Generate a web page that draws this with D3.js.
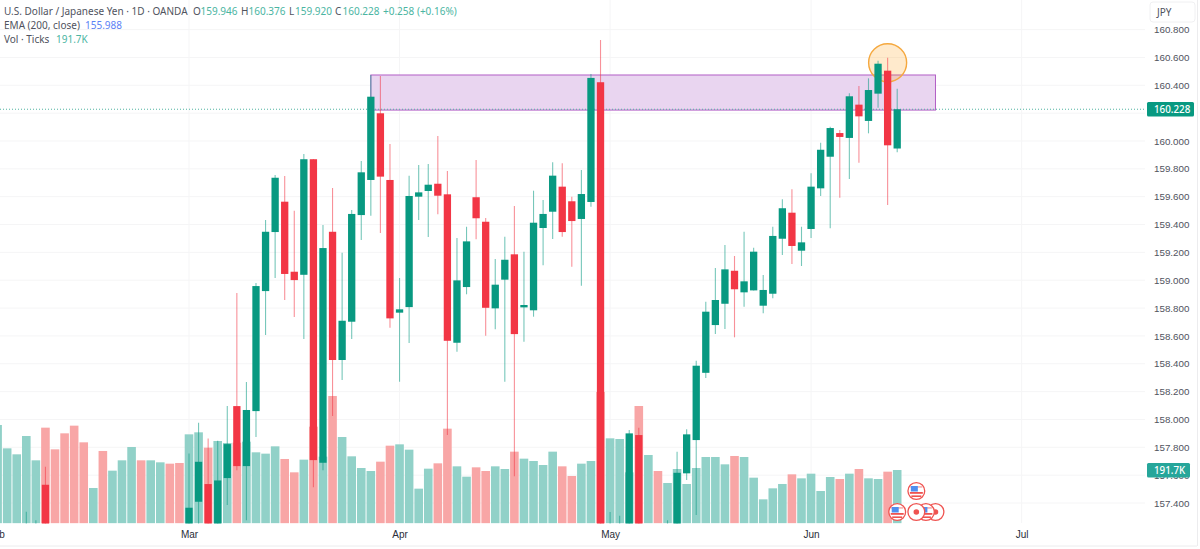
<!DOCTYPE html>
<html lang="en">
<head>
<meta charset="UTF-8">
<title>USD/JPY daily</title>
<script src="https://d3js.org/d3.v7.min.js"></script>
<style>
    html, body { margin: 0; padding: 0; background: #fff; overflow: hidden; }
    svg { display: block; font-family: "Noto Sans", sans-serif; }
    .domain, .tick line { display: none; }
</style>
</head>
<body>
<div id="chart"></div>
<script>
const width = 1200;
const height = 549;

// bar numbers: 0 is the first bar of March, null = candle sits under the pane
const bars = d3.range(-20, 75);

const opens = [null, null, null, 157.10, 157.08, 157.531, null, null, null, null, null, null, null, null, null, null, null, null, null, null,
    157.10, 157.409, 157.536, 157.15, 157.579, 158.096, 157.665, 158.060, 158.922, 159.346, 159.564, 159.061, 159.039, 159.869, 157.689, 159.348, 158.427, 158.702, 159.468, 159.720,
    160.199, 159.720, 158.767, 158.807, 159.600, 159.641, 159.693, 159.617, 158.551, 158.951, 159.596, 159.420, 158.798, 159.004, 159.186, 158.805, 158.784, 159.375, 159.492, 159.672,
    159.567, 159.440, 159.562, 160.422, 157.05, 157.05, 157.10, 157.888, null, null, 157.00, 157.15, 157.613, 157.852, 158.335, 158.678, 158.831, 159.068, 158.913, 158.927,
    158.817, 158.903, 159.298, 159.485, 159.212, 159.368, 159.660, 159.887, 160.057, 160.022, 160.261, 160.144, 160.340, 160.505, 159.946];
const highs = [null, null, null, 157.337, 157.277, 157.660, null, null, null, null, null, null, null, null, null, null, null, null, null, null,
    157.756, 157.976, 157.864, 157.847, 158.096, 158.908, 158.269, 158.980, 159.432, 159.756, 159.749, 159.499, 159.907, 159.871, 159.397, 159.662, 159.198, 159.504, 159.856, 160.474,
    160.467, 159.978, 159.016, 159.751, 159.828, 159.835, 160.036, 159.784, 159.303, 159.384, 159.864, 159.447, 159.152, 159.312, 159.533, 159.205, 159.643, 159.576, 159.847, 159.840,
    159.600, 159.792, 160.481, 160.726, 157.335, 157.308, 157.924, 157.940, null, null, 157.277, 157.768, 157.929, 158.422, 158.846, 159.088, 159.253, 159.174, 159.348, 159.233,
    159.037, 159.384, 159.581, 159.653, 159.384, 159.768, 159.988, 160.103, 160.079, 160.343, 160.395, 160.450, 160.577, 160.598, 160.376];
const lows = [null, null, null, 157.05, 157.00, 157.05, null, null, null, null, null, null, null, null, null, null, null, null, null, null,
    157.00, 157.20, 157.00, 157.05, 157.385, 157.636, 157.277, 157.874, 158.606, 159.016, 158.858, 158.736, 158.578, 157.514, 157.636, 158.024, 158.283, 158.578, 159.289, 159.463,
    159.339, 158.659, 158.271, 158.549, 159.432, 159.310, 159.473, 157.888, 158.486, 158.899, 159.294, 158.601, 158.647, 158.271, 157.593, 158.558, 158.738, 159.107, 159.296, 159.312,
    159.097, 158.960, 159.528, 157.00, 157.00, 157.00, 157.00, 157.00, null, null, 156.90, 157.00, 157.565, 157.313, 158.297, 158.613, 158.649, 158.590, 158.810, 158.927,
    158.762, 158.870, 159.181, 159.116, 159.102, 159.303, 159.605, 159.373, 159.593, 159.727, 159.844, 160.055, 160.239, 159.540, 159.920];
const closes = [null, null, null, 157.22, 157.20, 157.15, null, null, null, null, null, null, null, null, null, null, null, null, null, null,
    157.366, 157.696, 157.10, 157.562, 157.823, 157.665, 158.068, 158.958, 159.348, 159.736, 159.045, 159.001, 159.869, 157.708, 159.231, 158.427, 158.709, 159.476, 159.775, 160.318,
    159.744, 158.726, 158.791, 159.605, 159.631, 159.686, 159.607, 158.565, 158.999, 159.279, 159.445, 158.802, 158.968, 159.147, 158.613, 158.822, 159.413, 159.476, 159.751, 159.346,
    159.425, 159.619, 160.453, 157.15, 157.20, 157.20, 157.900, 157.10, null, null, 157.20, 157.617, 157.893, 158.386, 158.774, 158.858, 159.078, 158.935, 158.992, 159.205,
    158.930, 159.318, 159.517, 159.246, 159.272, 159.672, 159.937, 160.093, 160.029, 160.321, 160.177, 160.366, 160.555, 159.969, 160.228];

// volume in thousands of ticks
const volumes = [353.6, 269.6, 248.1, 314.0, 226.5, 344.0, 266.0, 323.6, 351.2, 291.2, 127.0, 260.1, 189.3, 226.5, 274.4, 226.5, 226.5, 219.3, 214.5, 216.9,
    320.0, 327.2, 272.0, 296.0, 288.8, 290.0, 293.6, 255.3, 250.5, 276.8, 231.3, 183.3, 228.9, 347.6, 239.7, 457.9, 310.4, 240.9, 198.9, 188.1,
    221.7, 279.2, 284.0, 264.8, 124.6, 196.5, 215.7, 340.4, 204.9, 167.7, 201.3, 188.1, 204.9, 195.3, 257.7, 232.5, 224.1, 209.7, 257.7, 204.9,
    170.1, 214.5, 224.1, 472.3, 305.6, 303.2, 183.3, 421.9, 245.7, 188.1, 145.0, 195.3, 141.4, 198.9, 238.5, 238.5, 212.1, 242.1, 238.5, 164.1,
    86.2, 125.8, 141.4, 176.1, 161.7, 178.5, 116.2, 166.5, 159.3, 178.5, 195.3, 161.7, 159.3, 185.7, 191.7];
const volumeUp = ("GGGGGRRRRR" + "GRGGGRGGRR" + "GGRGGRGGGG" + "RRGRGRGGGG" + "RRGGGGRRGG" +
    "RRGGRGGGGR" + "RGGRGGGRGR" + "GGGGGGGRGG" + "GGGRGGGGRG" + "RGGRG").split("");

const gridTicks = [160.8, 160.6, 160.4, 160.2, 160.0, 159.8, 159.6, 159.4, 159.2, 159.0, 158.8, 158.6, 158.4, 158.2, 158.0, 157.8, 157.6, 157.4];
// the 160.200 label is hidden by the last price tag
const priceTicks = gridTicks.filter(d => d !== 160.2);
const monthBars = [-20.2, 0, 22, 44, 65, 87];
const monthLabels = ["Feb", "Mar", "Apr", "May", "Jun", "Jul"];

const lastClose = 160.228;
const lastVolume = 191.7;

// zone and marker drawn on the chart, in bars and prices
const zoneBars = [19, 78];
const zonePrices = [160.474, 160.222];
const circleBar = 73;
const circlePrice = 160.562;

// economic calendar icons, row 0 sits on the bottom
const eventBars = [78, 77, 76, 74, 76];
const eventRows = [0, 0, 0, 0, 1];
const eventKinds = ["dot", "flag", "dot", "flag", "flag"];

const green = "#089981";
const red = "#f23645";
const gridColor = "#f5f5f6";
const textColor = "#50535e";

const x = d3.scaleLinear().domain([0, 74]).range([189, 897.2]);
const y = d3.scaleLinear().domain([157.4, 160.8]).range([503, 29.6]);
const yVol = d3.scaleLinear().domain([0, lastVolume]).range([523.3, 470]);

const svg = d3.select("#chart").append("svg")
    .attr("width", width)
    .attr("height", height);

svg.append("defs").append("clipPath").attr("id", "pane")
    .append("rect").attr("x", 0).attr("y", 0).attr("width", 1146).attr("height", 523.5);

// grid
svg.append("g").selectAll("line").data(gridTicks).enter().append("line")
    .attr("x1", 0).attr("x2", 1145)
    .attr("y1", d => y(d)).attr("y2", d => y(d))
    .attr("stroke", gridColor);
svg.append("g").selectAll("line").data(monthBars.slice(1)).enter().append("line")
    .attr("x1", d => x(d)).attr("x2", d => x(d))
    .attr("y1", 0).attr("y2", 523)
    .attr("stroke", gridColor);

// frame around the axes
svg.append("line").attr("x1", 0).attr("x2", 1197).attr("y1", 546).attr("y2", 546).attr("stroke", "#ececee");
svg.append("line").attr("x1", 1197.5).attr("x2", 1197.5).attr("y1", 0).attr("y2", 546).attr("stroke", "#ececee");

const pane = svg.append("g").attr("clip-path", "url(#pane)");

// volume
pane.append("g").selectAll("rect").data(bars).enter().append("rect")
    .attr("x", d => x(d) - 4.3)
    .attr("width", 8.6)
    .attr("y", (d, i) => yVol(volumes[i]))
    .attr("height", (d, i) => yVol(0) - yVol(volumes[i]))
    .attr("fill", (d, i) => volumeUp[i] === "G" ? "#91d1c8" : "#f8a6a6");

// zone and circle
pane.append("rect")
    .attr("x", x(zoneBars[0]))
    .attr("width", x(zoneBars[1]) - x(zoneBars[0]))
    .attr("y", y(zonePrices[0]))
    .attr("height", y(zonePrices[1]) - y(zonePrices[0]))
    .attr("fill", "#e9d5f0")
    .attr("stroke", "#b25fc6")
    .attr("stroke-width", 1);

// last price line
pane.append("line")
    .attr("x1", 0).attr("x2", 1146)
    .attr("y1", y(lastClose)).attr("y2", y(lastClose))
    .attr("stroke", "#4fb3a1")
    .attr("stroke-dasharray", "1 2");

pane.append("circle")
    .attr("cx", x(circleBar))
    .attr("cy", y(circlePrice))
    .attr("r", 19)
    .attr("fill", "#ff9800")
    .attr("fill-opacity", 0.2)
    .attr("stroke", "#f5a83e")
    .attr("stroke-width", 1.4);

// candles
const candles = bars.map((d, i) => ({ bar: d, o: opens[i], h: highs[i], l: lows[i], c: closes[i] }))
    .filter(d => d.o !== null);

pane.append("g").selectAll("line").data(candles).enter().append("line")
    .attr("x1", d => x(d.bar)).attr("x2", d => x(d.bar))
    .attr("y1", d => y(d.h)).attr("y2", d => y(d.l))
    .attr("stroke", d => d.c >= d.o ? green : red)
    .attr("stroke-opacity", 0.55)
    .attr("stroke-width", 1.1);

pane.append("g").selectAll("rect").data(candles).enter().append("rect")
    .attr("x", d => x(d.bar) - 3.65)
    .attr("width", 7.3)
    .attr("y", d => y(Math.max(d.o, d.c)))
    .attr("height", d => Math.max(1, Math.abs(y(d.o) - y(d.c))))
    .attr("fill", d => d.c >= d.o ? green : red);

// event icons
const eventData = eventBars.map((d, i) => ({ bar: d, row: eventRows[i], kind: eventKinds[i] }));
const icon = svg.append("g").selectAll("g").data(eventData).enter().append("g")
    .attr("transform", d => `translate(${x(d.bar)},${512 - d.row * 21})`);
icon.append("circle").attr("r", 8.4).attr("fill", "#fff").attr("stroke", "#ef5350").attr("stroke-width", 1.3);
icon.filter(d => d.kind === "dot").append("circle").attr("r", 2.8).attr("fill", "#ef5350");
const flag = icon.filter(d => d.kind === "flag");
flag.append("rect").attr("x", -6).attr("y", -5).attr("width", 12).attr("height", 1.8).attr("fill", "#f7b6b6");
flag.append("rect").attr("x", -6.5).attr("y", 1).attr("width", 13).attr("height", 1.8).attr("fill", "#ef5350");
flag.append("rect").attr("x", -5).attr("y", 4.4).attr("width", 10).attr("height", 1.6).attr("fill", "#ef5350");
flag.append("rect").attr("x", -5.5).attr("y", -5).attr("width", 7).attr("height", 5.5).attr("fill", "#4f8ff0");

// axes
const yAxis = d3.axisRight(y).tickValues(priceTicks).tickSize(0).tickPadding(0).tickFormat(d3.format(".3f"));
svg.append("g").attr("transform", "translate(1154,0)").call(yAxis)
    .call(g => g.selectAll("text").attr("fill", textColor).attr("font-size", 9.8));

const xAxis = d3.axisBottom(x).tickValues(monthBars).tickSize(0).tickPadding(0).tickFormat((d, i) => monthLabels[i]);
svg.append("g").attr("transform", "translate(0,530.5)").call(xAxis)
    .call(g => g.selectAll("text").attr("fill", "#2a2e39").attr("font-size", 10).attr("font-weight", 500));

// price and volume tags
function tag(yPos, w, fill, label) {
    svg.append("rect").attr("x", 1147).attr("y", yPos - 7.2).attr("width", w).attr("height", 14.4).attr("rx", 1.5).attr("fill", fill);
    svg.append("text").attr("x", 1154).attr("y", yPos).attr("dy", "0.35em")
        .attr("font-size", 9.8).attr("font-weight", 500).attr("fill", "#fff").text(label);
}
tag(y(lastClose), 47, green, d3.format(".3f")(lastClose));
tag(yVol(lastVolume) + 0.3, 43, "#26a69a", lastVolume + "K");

// JPY button
svg.append("rect").attr("x", 1150).attr("y", 2).attr("width", 45).attr("height", 20).attr("rx", 3)
    .attr("fill", "#fff").attr("stroke", "#f0f0f2");
svg.append("text").attr("x", 1157).attr("y", 12).attr("dy", "0.35em")
    .attr("font-size", 10).attr("fill", textColor).text("JPY");

// legend
const legendGreen = "#4bb5a2";
const legendRows = [
    [[4, 11, "U.S. Dollar / Japanese Yen · 1D · OANDA", textColor],
     [193, 11, "O", textColor], [200.5, 11, "159.946", legendGreen],
     [241, 11, "H", textColor], [248.5, 11, "160.376", legendGreen],
     [289, 11, "L", textColor], [295, 11, "159.920", legendGreen],
     [335, 11, "C", textColor], [342.5, 11, "160.228", legendGreen],
     [383, 11, "+0.258 (+0.16%)", legendGreen]],
    [[4, 25, "EMA (200, close)", textColor], [85, 25, "155.988", "#5b82f5"]],
    [[4, 39, "Vol · Ticks", textColor], [56, 39, "191.7K", legendGreen]]
];
legendRows.flat().forEach(t => {
    svg.append("text").attr("x", t[0]).attr("y", t[1]).attr("dy", "0.35em")
        .attr("font-size", 10).attr("fill", t[3]).text(t[2]);
});
</script>
</body>
</html>
